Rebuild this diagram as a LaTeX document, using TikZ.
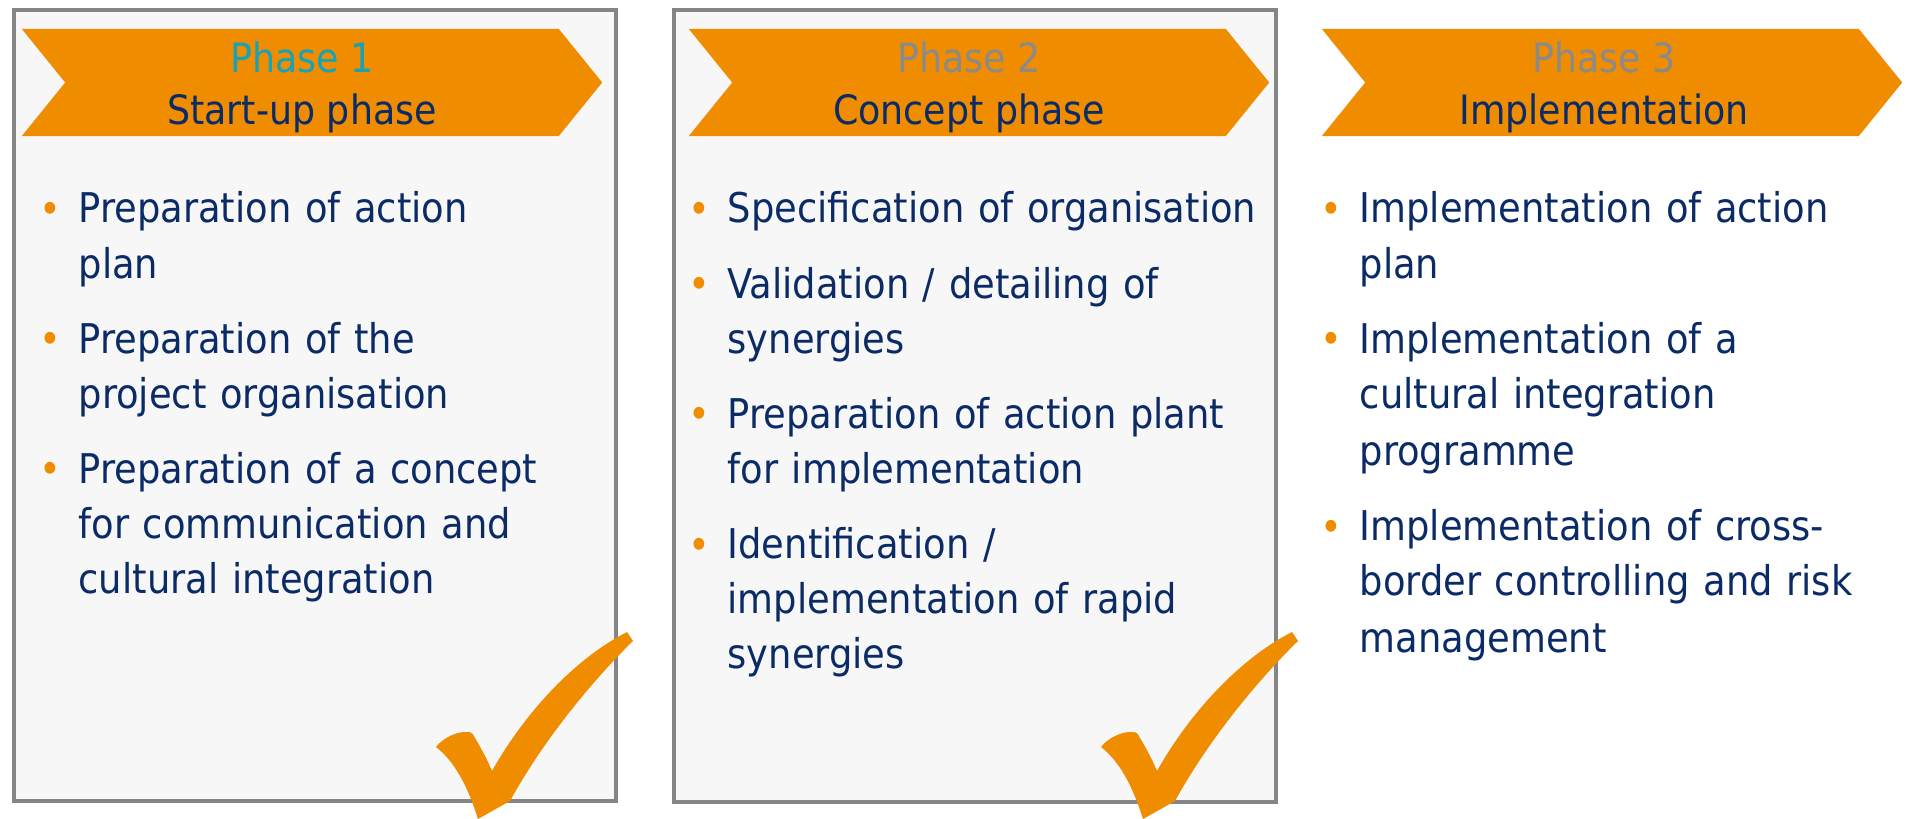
\documentclass[tikz,border=0pt]{standalone}
\usepackage{fontspec}
\setmainfont{DejaVu Sans Condensed}
\usetikzlibrary{shapes.symbols}
\definecolor{corange}{HTML}{F08C00}
\definecolor{cnavy}{HTML}{0B2B67}
\definecolor{cteal}{HTML}{18A2B6}
\definecolor{cgrey}{HTML}{8A8A8A}
\definecolor{cframe}{HTML}{858585}
\definecolor{cpanel}{HTML}{F7F7F7}
\newcommand\itm{\leavevmode\llap{\textcolor{corange}{\raisebox{-0.2pt}{•}}\hspace{5pt}}}
\newcommand\gap{\\[5.7pt]}
\tikzset{
  every picture/.style={x=0.01cm, y=-0.01cm},
  panel/.style={draw=cframe, fill=cpanel, line width=1.1pt, anchor=north west, inner sep=0pt},
  phase/.style={shape=signal, signal from=west, signal to=east, signal pointer angle=102, fill=corange, minimum width=5.8cm, minimum height=1.07cm, inner sep=0pt},
  phasetitle/.style={anchor=base, align=center, text=cnavy, font=\fontsize{11.5}{14.8}\selectfont},
  items/.style={anchor=base west, text width=6.2cm, align=left, text=cnavy, inner sep=0pt, font=\fontsize{11.65}{15.65}\selectfont},
  checkmark/.pic={
    \fill[corange] (-6,0) .. controls (-14,-25) and (-26,-55) .. (-48,-72)
      .. controls (-42,-80) and (-28,-88) .. (-16,-87)
      .. controls (-12,-87) and (-10,-84) .. (-9,-81)
      .. controls (-3,-71) and (3,-60) .. (8,-48)
      .. controls (40,-105) and (90,-160) .. (143,-187) -- (149,-178)
      .. controls (110,-140) and (60,-80) .. (26,-18) -- cycle;
  },
}

\begin{document}
\begin{tikzpicture}
  \useasboundingbox (0,0) rectangle (1916,819);
  \clip (0,0) rectangle (1916,819);

  \node[panel, minimum width=6.02cm, minimum height=7.91cm] (p1) at (12,8) {};
  \node[panel, minimum width=6.02cm, minimum height=7.92cm] (p2) at (672,8) {};

  \node[phase] (ch1) at (312,82.5) {};
  \node[phase] (ch2) at (979,82.5) {};
  \node[phase] (ch3) at (1612,82.5) {};

  \node[phasetitle] (t1) at (302,125) {\textcolor{cteal}{Phase 1}\\Start-up phase};
  \node[phasetitle] (t2) at (969,125) {\textcolor{cgrey}{Phase 2}\\Concept phase};
  \node[phasetitle] (t3) at (1604,125) {\textcolor{cgrey}{Phase 3}\\Implementation};

  \node[items] (c1) at (78,223) {\itm Preparation of action\\plan\gap
    \itm Preparation of the\\project organisation\gap
    \itm Preparation of a concept\\for communication and\\cultural integration};
  \node[items] (c2) at (727,223) {\itm Specification of organisation\gap
    \itm Validation / detailing of\\synergies\gap
    \itm Preparation of action plant\\for implementation\gap
    \itm Identification /\\implementation of rapid\\synergies};
  \node[items] (c3) at (1359,223) {\itm Implementation of action\\plan\gap
    \itm Implementation of a\\cultural integration\\[0.6pt]programme\gap
    \itm Implementation of cross-\\border controlling and risk\\[0.6pt]management};

  \pic at (484,819) {checkmark};
  \pic at (1149,819) {checkmark};
\end{tikzpicture}
\end{document}
